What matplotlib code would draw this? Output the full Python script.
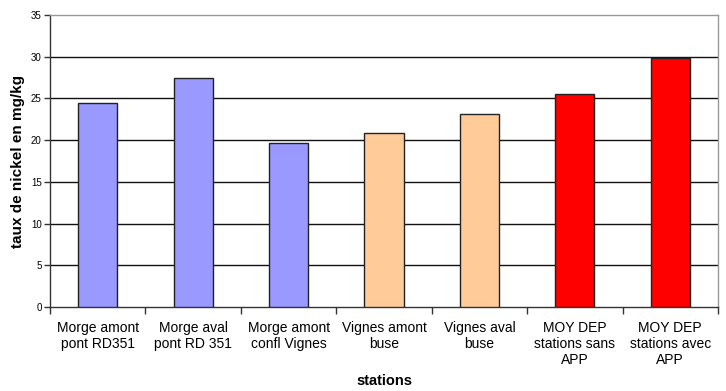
import matplotlib
matplotlib.use("Agg")
import matplotlib.pyplot as plt

categories = ["Morge amont\npont RD351", "Morge aval\npont RD 351", "Morge amont\nconfl Vignes",
              "Vignes amont\nbuse", "Vignes aval\nbuse", "MOY DEP\nstations sans\nAPP",
              "MOY DEP\nstations avec\nAPP"]
values = [24.5, 27.5, 19.6, 20.8, 23.1, 25.5, 29.8]
colors = ["#9999FF", "#9999FF", "#9999FF", "#FFCC99", "#FFCC99", "#FF0000", "#FF0000"]
yticks = [0, 5, 10, 15, 20, 25, 30, 35]

plt.rcParams['font.family'] = ['Liberation Sans', 'DejaVu Sans']

fig = plt.figure(figsize=(7.26, 3.91), dpi=100)
ax = fig.add_axes([50/726, 1-307/391, (718-50)/726, (307-15)/391])

x = list(range(len(categories)))
ax.bar(x, values, width=0.41, color=colors, edgecolor="#222222", linewidth=1, zorder=3)

ax.set_xlim(-0.5, len(categories) - 0.5)
ax.set_ylim(0, 35)
ax.set_yticks(yticks)
ax.set_yticklabels([str(t) for t in yticks], fontsize=7)
ax.set_xticks([i - 0.5 for i in range(len(categories) + 1)])
ax.set_xticklabels([])
ax.set_xticks(x, minor=True)
ax.set_xticklabels(categories, minor=True, fontsize=10, linespacing=1.2)
ax.tick_params(axis='x', which='minor', length=0, pad=10)
ax.tick_params(axis='x', which='major', length=5, width=1, color="#333333", direction='out')
ax.tick_params(axis='y', length=4, width=1, color="#333333", direction='out', pad=2)

for t in yticks[1:-1]:
    ax.axhline(t, color="#111111", linewidth=1, zorder=1)

for side in ["top", "right"]:
    ax.spines[side].set_color("#999999")
    ax.spines[side].set_linewidth(1)
for side in ["left", "bottom"]:
    ax.spines[side].set_color("#333333")
    ax.spines[side].set_linewidth(1)

ax.set_ylabel("taux de nickel en mg/kg", fontsize=11, fontweight='bold', labelpad=4)
ax.set_xlabel("stations", fontsize=10.5, fontweight='bold', labelpad=5)

fig.savefig("out.png", dpi=100)
